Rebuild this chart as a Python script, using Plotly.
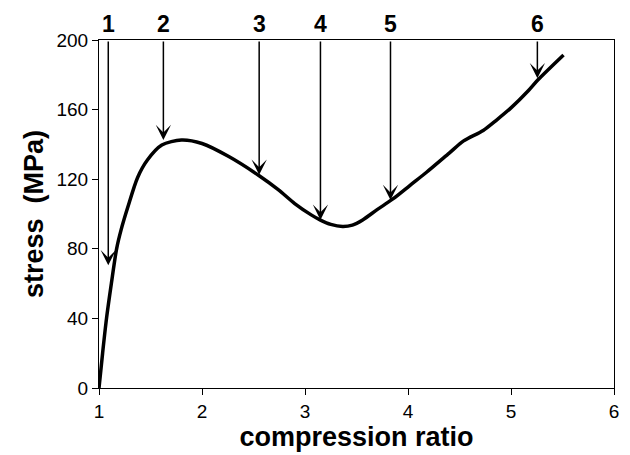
import plotly.graph_objects as go

# curve data (compression ratio, stress MPa)
ratio = [1.0, 1.035, 1.073, 1.12, 1.171, 1.215, 1.28, 1.375, 1.47, 1.61, 1.80, 2.00,
         2.26, 2.555, 2.74, 2.90, 3.06, 3.15, 3.25, 3.365, 3.46, 3.56, 3.70, 3.85,
         4.02, 4.18, 4.40, 4.54, 4.73, 4.86, 5.00, 5.17, 5.26, 5.51]
stress = [0, 20, 40, 60, 80, 91, 104, 121, 131, 139.6, 142.5, 140.5,
          133, 122, 114, 106, 99.5, 96.5, 94, 92.8, 93.6, 96.6, 102.5, 108.5,
          116.5, 124, 135, 142, 148, 154, 161, 171, 177, 191.4]

# arrows: label, x position, stress at tip
arrow_labels = ["1", "2", "3", "4", "5", "6"]
arrow_x = [1.09, 1.625, 2.555, 3.15, 3.83, 5.256]
arrow_tip = [70.5, 142.5, 122.5, 96.6, 108, 178]

x_ticks = [1, 2, 3, 4, 5, 6]
y_ticks = [0, 40, 80, 120, 160, 200]

FONT = "Liberation Sans, Arial, Helvetica, sans-serif"

fig = go.Figure()
fig.add_trace(go.Scatter(x=ratio, y=stress, mode="lines",
                         line=dict(color="black", width=3.5, shape="spline", smoothing=0.8),
                         showlegend=False, hoverinfo="skip"))

annotations = []
for lab, xa, yt in zip(arrow_labels, arrow_x, arrow_tip):
    annotations.append(dict(x=xa, y=yt, ax=xa, ay=200, xref="x", yref="y",
                            axref="x", ayref="y", showarrow=True, arrowhead=3,
                            arrowsize=1.7, arrowwidth=1.5, arrowcolor="black", text=""))
    annotations.append(dict(x=xa, y=1, xref="x", yref="paper", yanchor="bottom",
                            yshift=1, showarrow=False, text="<b>%s</b>" % lab,
                            font=dict(family=FONT, size=23, color="black")))

fig.update_layout(
    width=630, height=455,
    margin=dict(l=99, r=11, t=40, b=67),
    paper_bgcolor="white", plot_bgcolor="white",
    font=dict(family=FONT, color="black"),
    annotations=annotations,
    xaxis=dict(range=[1, 6], tickvals=x_ticks, ticks="outside", ticklen=6,
               tickwidth=1.2, tickcolor="black", showline=True, linecolor="black",
               linewidth=1.2, mirror=True, showgrid=False, zeroline=False,
               tickfont=dict(size=19, family=FONT),
               title=dict(text="<b>compression ratio</b>", font=dict(size=27, family=FONT),
                          standoff=0)),
    yaxis=dict(range=[0, 200], tickvals=y_ticks, ticks="outside", ticklen=6,
               tickwidth=1.2, tickcolor="black", showline=True, linecolor="black",
               linewidth=1.2, mirror=True, showgrid=False, zeroline=False,
               tickfont=dict(size=19, family=FONT),
               title=dict(text="<b>stress  (MPa)</b>", font=dict(size=27, family=FONT),
                          standoff=4)),
)

fig.write_html("out.html")
